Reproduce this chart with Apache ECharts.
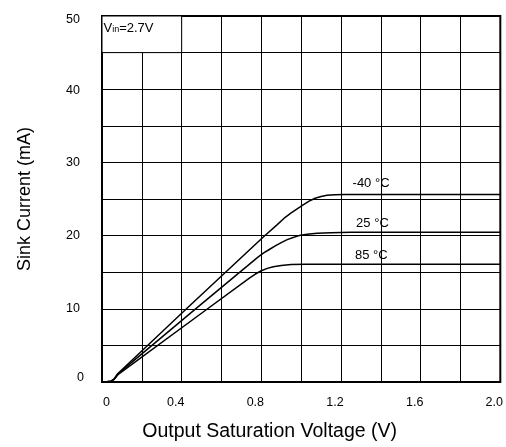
<!DOCTYPE html>
<html>
<head>
<meta charset="utf-8">
<script src="https://cdn.jsdelivr.net/npm/echarts@6/dist/echarts.min.js"></script>
<style>html,body{margin:0;padding:0;background:#fff;}#c{width:506px;height:447px;}</style>
</head>
<body>
<div id="c"></div>
<script>
// ---- data ----
const xTickLabels = ['0', '0.4', '0.8', '1.2', '1.6', '2.0'];
const yTickLabels = ['0', '10', '20', '30', '40', '50'];
const seriesNames = ['-40 °C', '25 °C', '85 °C'];
const curveM40 = [[0,0],[0.025,0.02],[0.045,0.12],[0.06,0.4],[0.08,1.16],[0.42,9.9],[0.81,19.8],[0.88,21.5],[0.92,22.5],[0.95,23.1],[0.98,23.65],[1.01,24.2],[1.04,24.7],[1.07,25.1],[1.1,25.35],[1.13,25.5],[1.17,25.58],[1.22,25.6],[2.0,25.6]];
const curve25 = [[0,0],[0.025,0.02],[0.045,0.12],[0.06,0.37],[0.08,1.12],[0.47,10],[0.78,17.0],[0.81,17.6],[0.84,18.1],[0.87,18.6],[0.9,19.05],[0.93,19.45],[0.96,19.75],[0.99,20.0],[1.03,20.2],[1.08,20.32],[1.15,20.4],[1.25,20.45],[2.0,20.45]];
const curve85 = [[0,0],[0.025,0.02],[0.045,0.12],[0.06,0.33],[0.08,1.0],[0.52,9.8],[0.74,14.2],[0.77,14.75],[0.8,15.2],[0.83,15.52],[0.86,15.75],[0.9,15.93],[0.95,16.04],[1.02,16.1],[2.0,16.1]];
const labelCoords = [[1.351, 27.06], [1.358, 21.68], [1.352, 17.3]];

const curves = [curveM40, curve25, curve85];
const FONT = 'Liberation Sans, Arial, sans-serif';

const chart = echarts.init(document.getElementById('c'));
const series = curves.map((d, i) => ({
  name: seriesNames[i],
  type: 'line',
  data: d,
  showSymbol: false,
  smooth: false,
  lineStyle: { color: '#000', width: 1.5 },
  markPoint: {
    symbol: 'circle', symbolSize: 0,
    itemStyle: { color: 'rgba(0,0,0,0)' },
    label: { show: true, position: 'inside', formatter: seriesNames[i], color: '#000', fontFamily: FONT, fontSize: 13 },
    data: [{ coord: labelCoords[i] }]
  }
}));
series[0].markArea = {
  silent: true,
  itemStyle: { color: '#fff', borderColor: '#000', borderWidth: 1 },
  label: {
    show: true, position: [2, 5],
    formatter: '{a|V}{b|in}{a|=2.7V}',
    rich: {
      a: { fontFamily: FONT, fontSize: 13, color: '#000', verticalAlign: 'bottom', lineHeight: 14 },
      b: { fontFamily: FONT, fontSize: 9, color: '#000', verticalAlign: 'bottom', lineHeight: 12 }
    }
  },
  data: [[{ coord: [0, 45] }, { coord: [0.4, 50] }]]
};

const yRich = (pad) => ({ fontFamily: FONT, fontSize: 12.5, color: '#000', padding: pad });

chart.setOption({
  animation: false,
  backgroundColor: '#fff',
  grid: { left: 102, right: 4, top: 16, bottom: 59, show: true, borderColor: '#000', borderWidth: 2, backgroundColor: 'transparent' },
  xAxis: {
    type: 'value', min: 0, max: 2.0, interval: 0.4,
    name: 'Output Saturation Voltage (V)', nameLocation: 'middle', nameGap: 40,
    nameTextStyle: { fontFamily: FONT, fontSize: 19.5, color: '#000', padding: [0, 63, 0, 0] },
    axisLine: { show: false }, axisTick: { show: false },
    axisLabel: {
      margin: 14, color: '#000', fontFamily: FONT, fontSize: 12.5,
      formatter: (v) => {
        const idx = Math.round(v / 0.4);
        const t = xTickLabels[idx];
        return idx === 0 ? '{z|' + t + '}' : '{n|' + t + '}';
      },
      rich: {
        z: { fontFamily: FONT, fontSize: 12.5, color: '#000', padding: [0, 0, 0, 9] },
        n: { fontFamily: FONT, fontSize: 12.5, color: '#000', padding: [0, 12, 0, 0] }
      }
    },
    splitLine: { show: true, lineStyle: { color: '#000', width: 1 } },
    minorTick: { show: false, splitNumber: 2 },
    minorSplitLine: { show: true, lineStyle: { color: '#000', width: 1 } }
  },
  yAxis: {
    type: 'value', min: 0, max: 50, interval: 10,
    name: 'Sink Current (mA)', nameLocation: 'middle', nameGap: 68,
    nameTextStyle: { fontFamily: FONT, fontSize: 18, color: '#000' },
    axisLine: { show: false }, axisTick: { show: false },
    axisLabel: {
      margin: 18, color: '#000', fontFamily: FONT, fontSize: 12.5,
      formatter: (v) => {
        const idx = Math.round(v / 10);
        return '{y' + idx + '|' + yTickLabels[idx] + '}';
      },
      rich: {
        y0: yRich([0, 0, 8, 0]),
        y1: yRich([0, 4, 0, 0]),
        y2: yRich([0, 4, 0, 0]),
        y3: yRich([0, 4, 0, 0]),
        y4: yRich([2, 4, 0, 0]),
        y5: yRich([8, 4, 0, 0])
      }
    },
    splitLine: { show: true, lineStyle: { color: '#000', width: 1 } },
    minorTick: { show: false, splitNumber: 2 },
    minorSplitLine: { show: true, lineStyle: { color: '#000', width: 1 } }
  },
  series: series
});
</script>
</body>
</html>
